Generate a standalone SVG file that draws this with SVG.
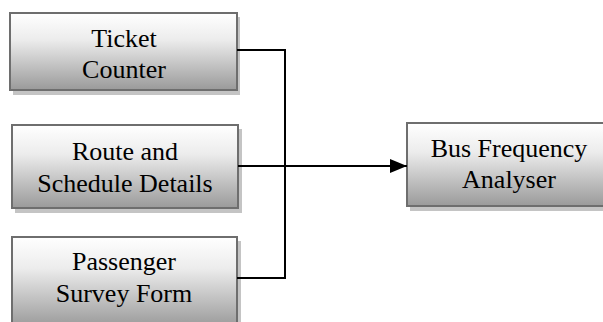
<svg xmlns="http://www.w3.org/2000/svg" width="603" height="322" viewBox="0 0 603 322">
<defs>
<linearGradient id="g" x1="0" y1="0" x2="0" y2="1">
<stop offset="0" stop-color="#ffffff"/>
<stop offset="0.35" stop-color="#ececec"/>
<stop offset="1" stop-color="#9a9a9a"/>
</linearGradient>
<marker id="arr" markerWidth="17" markerHeight="14" refX="17" refY="7" orient="auto" markerUnits="userSpaceOnUse" viewBox="0 0 17 14">
<path d="M0,0 L17,7 L0,14 Z" fill="#000"/>
</marker>
<style>
.sh{fill:#c4c4c4;}
.bx{fill:url(#g);stroke:#6e6e6e;stroke-width:2;}
.t{font-size:26px;fill:#000;text-anchor:middle;}
.c{fill:none;stroke:#000;stroke-width:2;}
</style>
</defs>
<g font-family="Liberation Serif, Times New Roman, serif">
<g id="ticket">
<rect class="sh" x="13" y="17" width="227" height="78"/>
<rect class="bx" x="10" y="13" width="227" height="77"/>
<text class="t" x="124" y="47">Ticket</text>
<text class="t" x="124" y="78">Counter</text>
</g>
<g id="route">
<rect class="sh" x="15" y="129" width="227" height="84"/>
<rect class="bx" x="12" y="125" width="226" height="83"/>
<text class="t" x="125" y="160">Route and</text>
<text class="t" x="125" y="192">Schedule Details</text>
</g>
<g id="passenger">
<rect class="sh" x="15" y="241" width="226" height="90"/>
<rect class="bx" x="12" y="237" width="225" height="90"/>
<text class="t" x="124" y="270">Passenger</text>
<text class="t" x="124" y="302">Survey Form</text>
</g>
<g id="analyser">
<rect class="sh" x="410" y="127" width="203" height="84"/>
<rect class="bx" x="407" y="123" width="203" height="83"/>
<text class="t" x="509" y="157">Bus Frequency</text>
<text class="t" x="509" y="188">Analyser</text>
</g>
</g>
<g id="connectors">
<polyline class="c" points="237,50 285,50 285,278 237,278"/>
<line class="c" x1="238" y1="166" x2="407" y2="166" marker-end="url(#arr)"/>
</g>
</svg>
